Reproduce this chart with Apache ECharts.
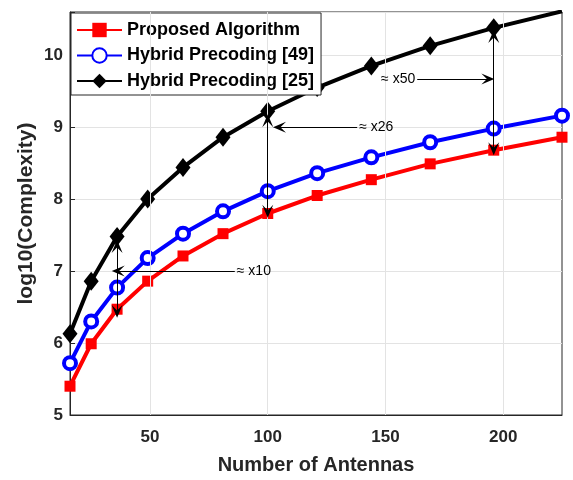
<!DOCTYPE html>
<html><head><meta charset="utf-8">
<script src="https://cdn.jsdelivr.net/npm/echarts@6/dist/echarts.min.js"></script>
<style>html,body{margin:0;padding:0;background:#fff}#c{width:573px;height:480px}</style>
</head><body><div id="c"></div>
<script>
const antennas = [16, 25, 36, 49, 64, 81, 100, 121, 144, 169, 196, 225];
const proposed = [5.40, 5.99, 6.47, 6.86, 7.21, 7.52, 7.80, 8.05, 8.27, 8.49, 8.68, 8.86];
const hybrid49 = [5.72, 6.30, 6.77, 7.18, 7.52, 7.83, 8.11, 8.36, 8.58, 8.79, 8.98, 9.16];
const hybrid25 = [6.13, 6.86, 7.48, 8.00, 8.44, 8.86, 9.22, 9.55, 9.85, 10.13, 10.38, 10.61];
const xTicks = [50, 100, 150, 200];
const seriesNames = ['Proposed Algorithm', 'Hybrid Precoding [49]', 'Hybrid Precoding [25]'];
// annotations: vertical double arrows and horizontal pointer arrows
const vArrows = [[36, 7.34, 6.44], [100, 9.09, 7.83], [196, 10.26, 8.70]];
const hArrows = [
  {label: '≈ x10', from: [86, 7.0], to: [36.5, 7.0]},
  {label: '≈ x26', from: [138, 9.0], to: [105, 9.0]},
  {label: '≈ x50', from: [163.5, 9.67], to: [193.5, 9.67]}
];

const arrowPath = 'path://M0,0 L6,14 L0,8 L-6,14 Z';
const font = '"Liberation Sans", Arial, Helvetica, sans-serif';
const pair = (xs, ys) => xs.map((x, i) => [x, ys[i]]);

const markData = [];
vArrows.forEach(a => markData.push([
  {coord: [a[0], a[1]], symbol: arrowPath},
  {coord: [a[0], a[2]], symbol: arrowPath}
]));
hArrows.forEach(a => markData.push([
  {coord: a.from, symbol: 'none', name: a.label,
   label: {show: true, position: 'start', formatter: '{b}', color: '#000', fontSize: 14, fontFamily: font, distance: 2}},
  {coord: a.to, symbol: arrowPath}
]));

const chart = echarts.init(document.getElementById('c'), null, {renderer: 'canvas'});
chart.setOption({
  animation: false,
  backgroundColor: '#fff',
  textStyle: {fontFamily: font},
  grid: {left: 70, right: 11, top: 12, bottom: 65, show: true, borderColor: '#262626', borderWidth: 1},
  legend: {
    orient: 'vertical', left: 71, top: 13,
    backgroundColor: '#fff', borderColor: '#262626', borderWidth: 1,
    padding: [8, 7, 5, 5], itemWidth: 45, itemHeight: 18, itemGap: 7.5,
    textStyle: {fontSize: 18, fontWeight: 'bold', color: '#000', fontFamily: font},
    data: seriesNames
  },
  xAxis: {
    type: 'value', min: 16, max: 225,
    name: 'Number of Antennas', nameLocation: 'middle', nameGap: 40, nameMoveOverlap: false,
    nameTextStyle: {fontSize: 20, fontWeight: 'bold', color: '#262626'},
    axisLine: {show: true, lineStyle: {color: '#262626'}},
    axisTick: {show: true, inside: true, length: 5, customValues: xTicks, lineStyle: {color: '#262626'}},
    axisLabel: {customValues: xTicks, fontSize: 17, fontWeight: 'bold', color: '#262626', margin: 14},
    splitLine: {show: false}
  },
  yAxis: {
    type: 'value', min: 5, max: 10.6, interval: 1,
    name: 'log10(Complexity)', nameLocation: 'middle', nameGap: 33, nameMoveOverlap: false,
    nameTextStyle: {fontSize: 21, fontWeight: 'bold', color: '#262626'},
    axisLine: {show: true, lineStyle: {color: '#262626'}},
    axisTick: {show: true, inside: true, length: 5, lineStyle: {color: '#262626'}},
    axisLabel: {fontSize: 17, fontWeight: 'bold', color: '#262626', margin: 7,
      formatter: v => (Math.abs(v - Math.round(v)) < 1e-6 ? String(Math.round(v)) : '')},
    splitLine: {show: true, lineStyle: {color: '#e3e3e3', width: 1}}
  },
  series: [
    {
      name: 'Grid', type: 'line', data: [], silent: true,
      markLine: {silent: true, symbol: 'none', animation: false,
        label: {show: false},
        lineStyle: {color: '#e3e3e3', width: 1, type: 'solid'},
        data: xTicks.map(v => ({xAxis: v}))}
    },
    {
      name: seriesNames[0], type: 'line', data: pair(antennas, proposed), z: 3,
      lineStyle: {color: '#ff0000', width: 4}, itemStyle: {color: '#ff0000'},
      symbol: 'rect', symbolSize: 11, showAllSymbol: true
    },
    {
      name: seriesNames[1], type: 'line', data: pair(antennas, hybrid49), z: 3,
      lineStyle: {color: '#0000ff', width: 4}, itemStyle: {color: '#fff', borderColor: '#0000ff', borderWidth: 4},
      symbol: 'circle', symbolSize: 12, showAllSymbol: true
    },
    {
      name: seriesNames[2], type: 'line', data: pair(antennas, hybrid25), z: 3,
      lineStyle: {color: '#000', width: 4}, itemStyle: {color: '#000'},
      symbol: 'diamond', symbolSize: [15, 19], showAllSymbol: true,
      markLine: {
        silent: true, animation: false, z: 5,
        symbolSize: [11, 13],
        lineStyle: {color: '#000', width: 1, type: 'solid'},
        label: {show: false},
        data: markData
      }
    }
  ]
});
</script></body></html>
